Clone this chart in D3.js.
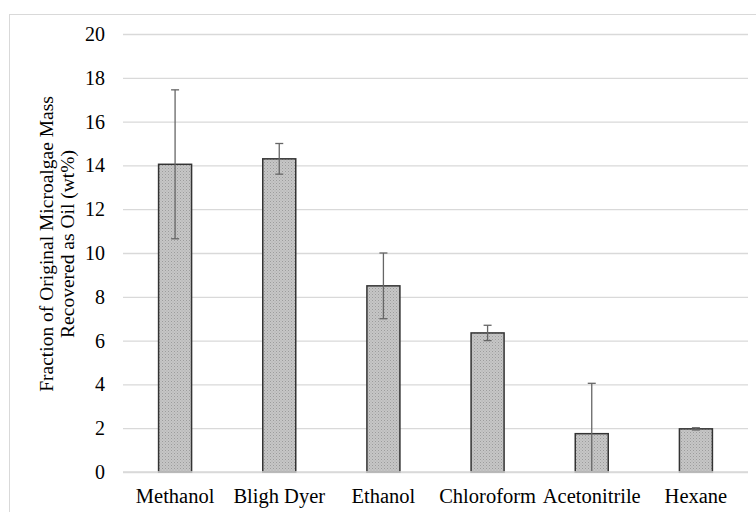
<!DOCTYPE html>
<html>
<head>
<meta charset="utf-8">
<script src="https://cdn.jsdelivr.net/npm/d3@7/dist/d3.min.js"></script>
<style>
  body { margin: 0; background: #fff; }
  svg { display: block; font-family: "Liberation Serif", "Times New Roman", serif; }
</style>
</head>
<body>
<svg id="chart" width="756" height="512"></svg>
<script>
// Solvent extraction results: mean oil yield and error bar bounds (wt%)
const solvents = ["Methanol", "Bligh Dyer", "Ethanol", "Chloroform", "Acetonitrile", "Hexane"];
const yieldMean = [14.05, 14.3, 8.5, 6.35, 1.75, 1.97];
const errLow = [10.65, 13.6, 7.0, 6.0, -0.55, 1.92];
const errHigh = [17.45, 15.0, 10.0, 6.7, 4.05, 2.02];
const yTicks = [0, 2, 4, 6, 8, 10, 12, 14, 16, 18, 20];

const svg = d3.select("#chart");

// Outer chart frame
svg.append("rect")
  .attr("x", 9.5).attr("y", 14.5)
  .attr("width", 760).attr("height", 520)
  .attr("fill", "#fff").attr("stroke", "#d9d9d9").attr("stroke-width", 1);

const x = d3.scaleBand().domain(solvents).range([123, 748]).paddingInner(0).paddingOuter(0);
const y = d3.scaleLinear().domain([0, 20]).range([472, 34]);
const barW = 33;

// Dotted gray fill
const defs = svg.append("defs");
const pat = defs.append("pattern")
  .attr("id", "dots").attr("patternUnits", "userSpaceOnUse")
  .attr("width", 3).attr("height", 3);
pat.append("rect").attr("width", 3).attr("height", 3).attr("fill", "#c6c6c6");
pat.append("rect").attr("x", 0).attr("y", 0).attr("width", 1).attr("height", 1).attr("fill", "#9c9c9c");
pat.append("rect").attr("x", 1.5).attr("y", 1.5).attr("width", 1).attr("height", 1).attr("fill", "#adadad");

// Gridlines and y tick labels
const yAxis = d3.axisLeft(y).tickValues(yTicks).tickSize(-(748 - 123)).tickPadding(18);
const gy = svg.append("g").attr("transform", "translate(123,0)").call(yAxis);
gy.select(".domain").remove();
gy.selectAll(".tick line").attr("stroke", "#d9d9d9").attr("stroke-width", 1.3);
gy.selectAll(".tick text").attr("fill", "#000").style("font-size", "20px")
  .style("font-family", "Liberation Serif, serif");

// Bars
svg.append("g").selectAll("rect")
  .data(solvents)
  .join("rect")
  .attr("x", d => x(d) + x.bandwidth() / 2 - barW / 2)
  .attr("y", (d, i) => y(yieldMean[i]))
  .attr("width", barW)
  .attr("height", (d, i) => y(0) - y(yieldMean[i]))
  .attr("fill", "url(#dots)")
  .attr("stroke", "#333")
  .attr("stroke-width", 1.5);

// Error bars (clipped at the axis baseline)
const eb = svg.append("g").attr("stroke", "#666").attr("stroke-width", 1.3);
solvents.forEach((d, i) => {
  const cx = x(d) + x.bandwidth() / 2;
  const lo = Math.max(errLow[i], 0);
  eb.append("line").attr("x1", cx).attr("x2", cx)
    .attr("y1", y(lo)).attr("y2", y(errHigh[i]));
  eb.append("line").attr("x1", cx - 4).attr("x2", cx + 4)
    .attr("y1", y(errHigh[i])).attr("y2", y(errHigh[i]));
  if (errLow[i] >= 0) {
    eb.append("line").attr("x1", cx - 4).attr("x2", cx + 4)
      .attr("y1", y(errLow[i])).attr("y2", y(errLow[i]));
  }
});

// Baseline
svg.append("line").attr("x1", 123).attr("x2", 748)
  .attr("y1", y(0)).attr("y2", y(0))
  .attr("stroke", "#d9d9d9").attr("stroke-width", 1.3);

// Category labels
const xAxis = d3.axisBottom(x).tickSize(0).tickPadding(16);
const gx = svg.append("g").attr("transform", `translate(0,${y(0)})`).call(xAxis);
gx.select(".domain").remove();
gx.selectAll(".tick text").attr("fill", "#000").style("font-size", "20.5px")
  .style("font-family", "Liberation Serif, serif");

// Axis title
const title = svg.append("text")
  .attr("transform", "translate(52.5,244) rotate(-90)")
  .attr("text-anchor", "middle")
  .style("font-size", "19.5px").attr("fill", "#000");
title.append("tspan").attr("x", 0).attr("dy", 0).text("Fraction of Original Microalgae Mass");
title.append("tspan").attr("x", 0).attr("dy", 21).text("Recovered as Oil (wt%)");
</script>
</body>
</html>
